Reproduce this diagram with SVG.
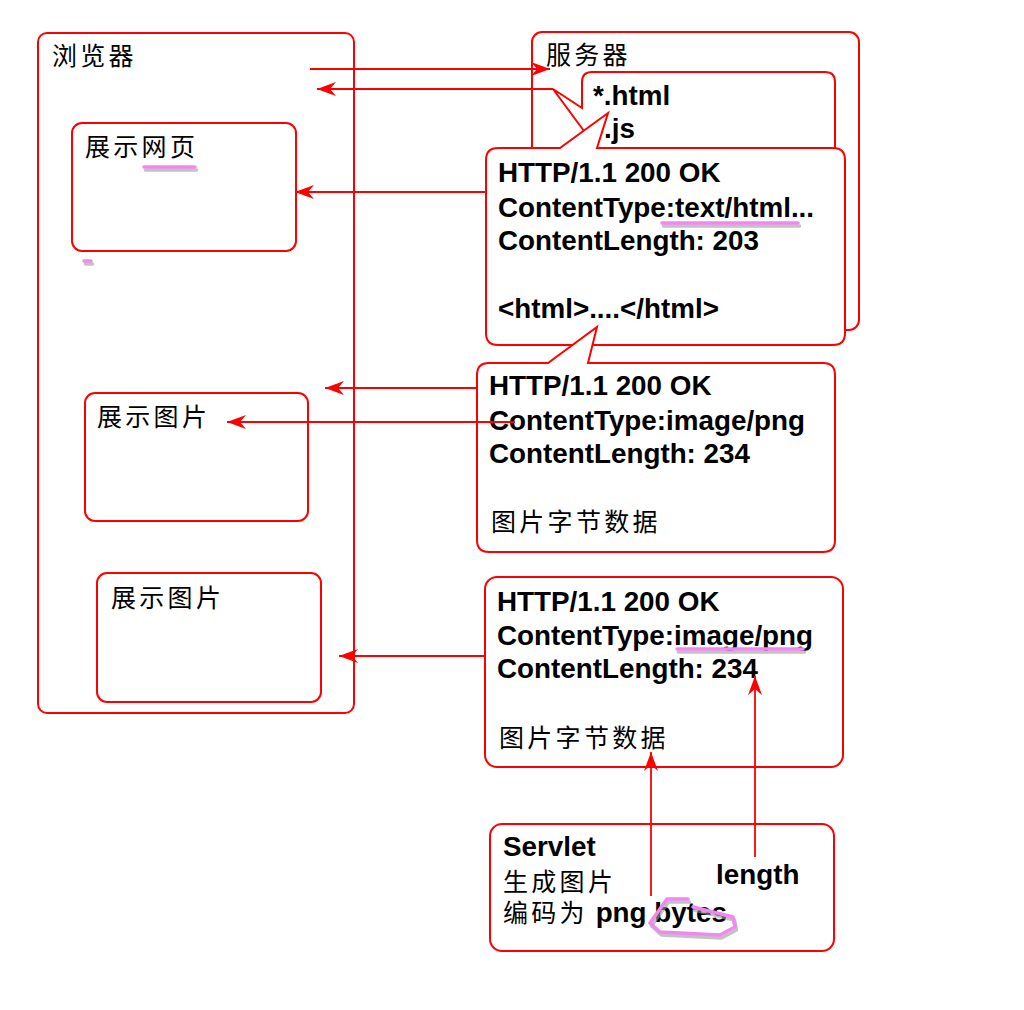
<svg xmlns="http://www.w3.org/2000/svg" width="1024" height="1010" viewBox="0 0 1024 1010">
<defs>
<style>
.box{fill:#fff;stroke:#ff0000;stroke-width:2}
.ln{fill:none;stroke:#ff0000;stroke-width:1.8}
.en{font-family:"Liberation Sans",Arial,sans-serif;font-weight:bold;font-size:27.8px;fill:#000}
.cn{font-family:"Noto Sans CJK SC",sans-serif;font-size:25px;letter-spacing:3.3px;fill:#000}
.hl{fill:none;stroke:#f088f0;stroke-width:3.5;stroke-linecap:round;stroke-linejoin:round}
.sh{fill:none;stroke:#999;stroke-opacity:0.6;stroke-width:3.5;stroke-linecap:round;stroke-linejoin:round}
</style>
<marker id="ah" markerUnits="userSpaceOnUse" markerWidth="20" markerHeight="14" refX="19" refY="7" orient="auto">
<path d="M0,0 L19,7 L0,14 L6,7 Z" fill="#ff0000"/>
</marker>
</defs>
<rect width="1024" height="1010" fill="#fff"/>

<g id="browser">
<rect class="box" x="38" y="33" width="316" height="680" rx="9"/>
<text class="cn" x="52" y="65">浏览器</text>
</g>
<g id="show-page">
<rect class="box" x="72" y="123" width="224" height="128" rx="10"/>
<text class="cn" x="85" y="156">展示网页</text>
</g>
<g id="show-img1">
<rect class="box" x="85" y="393" width="223" height="128" rx="10"/>
<text class="cn" x="97" y="426">展示图片</text>
</g>
<g id="show-img2">
<rect class="box" x="97" y="573" width="224" height="129" rx="10"/>
<text class="cn" x="111" y="607">展示图片</text>
</g>

<g id="server">
<rect class="box" x="532" y="32" width="327" height="298" rx="10"/>
<text class="cn" x="546" y="64">服务器</text>
</g>
<g id="files">
<path class="box" d="M582,108 L553,89 L584,131 L584,170 L835,170 L835,82 Q835,72 825,72 L592,72 Q582,72 582,82 Z"/>
<text class="en" x="593" y="105">*.html</text>
<text class="en" x="604" y="138">.js</text>
</g>
<g id="resp-html">
<path class="box" d="M498,148 L560,148 L608,113 L597,148 L833,148 Q845,148 845,160 L845,333 Q845,345 833,345 L498,345 Q486,345 486,333 L486,160 Q486,148 498,148 Z"/>
<text class="en" x="498" y="182">HTTP/1.1 200 OK</text>
<text class="en" x="498" y="217">ContentType:text/html...</text>
<text class="en" x="498" y="250">ContentLength: 203</text>
<text class="en" x="498" y="318">&lt;html&gt;....&lt;/html&gt;</text>
</g>
<g id="resp-img1">
<path class="box" d="M489,363 L548,363 L597,327 L588,363 L823,363 Q835,363 835,375 L835,540 Q835,552 823,552 L489,552 Q477,552 477,540 L477,375 Q477,363 489,363 Z"/>
<text class="en" x="489" y="395">HTTP/1.1 200 OK</text>
<text class="en" x="489" y="430">ContentType:image/png</text>
<text class="en" x="489" y="463">ContentLength: 234</text>
<text class="cn" x="491" y="531">图片字节数据</text>
</g>
<g id="resp-img2">
<rect class="box" x="485" y="577" width="358" height="190" rx="12"/>
<text class="en" x="497" y="611">HTTP/1.1 200 OK</text>
<text class="en" x="497" y="645">ContentType:image/png</text>
<text class="en" x="497" y="678">ContentLength: 234</text>
<text class="cn" x="499" y="747">图片字节数据</text>
</g>
<g id="servlet">
<rect class="box" x="490" y="824" width="344" height="127" rx="12"/>
<text class="en" x="503" y="856">Servlet</text>
<text class="cn" x="503" y="891">生成图片</text>
<text x="503" y="922"><tspan class="cn">编码为</tspan><tspan class="en"> png bytes</tspan></text>
<text class="en" x="716" y="884">length</text>
</g>

<g id="connectors">
<line class="ln" x1="310" y1="69" x2="550" y2="69" marker-end="url(#ah)"/>
<line class="ln" x1="553" y1="89" x2="317" y2="89" marker-end="url(#ah)"/>
<line class="ln" x1="486" y1="192" x2="295" y2="192" marker-end="url(#ah)"/>
<line class="ln" x1="477" y1="388" x2="325" y2="388" marker-end="url(#ah)"/>
<line class="ln" x1="515" y1="422" x2="227" y2="422" marker-end="url(#ah)"/>
<line class="ln" x1="485" y1="656" x2="339" y2="656" marker-end="url(#ah)"/>
<line class="ln" x1="651" y1="896" x2="651" y2="752" marker-end="url(#ah)"/>
<line class="ln" x1="755" y1="857" x2="755" y2="676" marker-end="url(#ah)"/>
</g>

<g id="highlights">
<g transform="translate(1.5,3)">
<path class="sh" d="M144,167 L195,167"/>
<path class="sh" d="M84,261 L91,261"/>
<path class="sh" d="M662,223 L798,223"/>
<path class="sh" d="M677,649 L803,649"/>
<path class="sh" d="M688,899 L667,899 L650,923 L660,932 L720,935 L735,927 L733,917 L713,912 L693,907"/>
</g>
<path class="hl" d="M144,167 L195,167"/>
<path class="hl" d="M84,261 L91,261"/>
<path class="hl" d="M662,223 L798,223"/>
<path class="hl" d="M677,649 L803,649"/>
<path class="hl" d="M688,899 L667,899 L650,923 L660,932 L720,935 L735,927 L733,917 L713,912 L693,907"/>
</g>
</svg>
